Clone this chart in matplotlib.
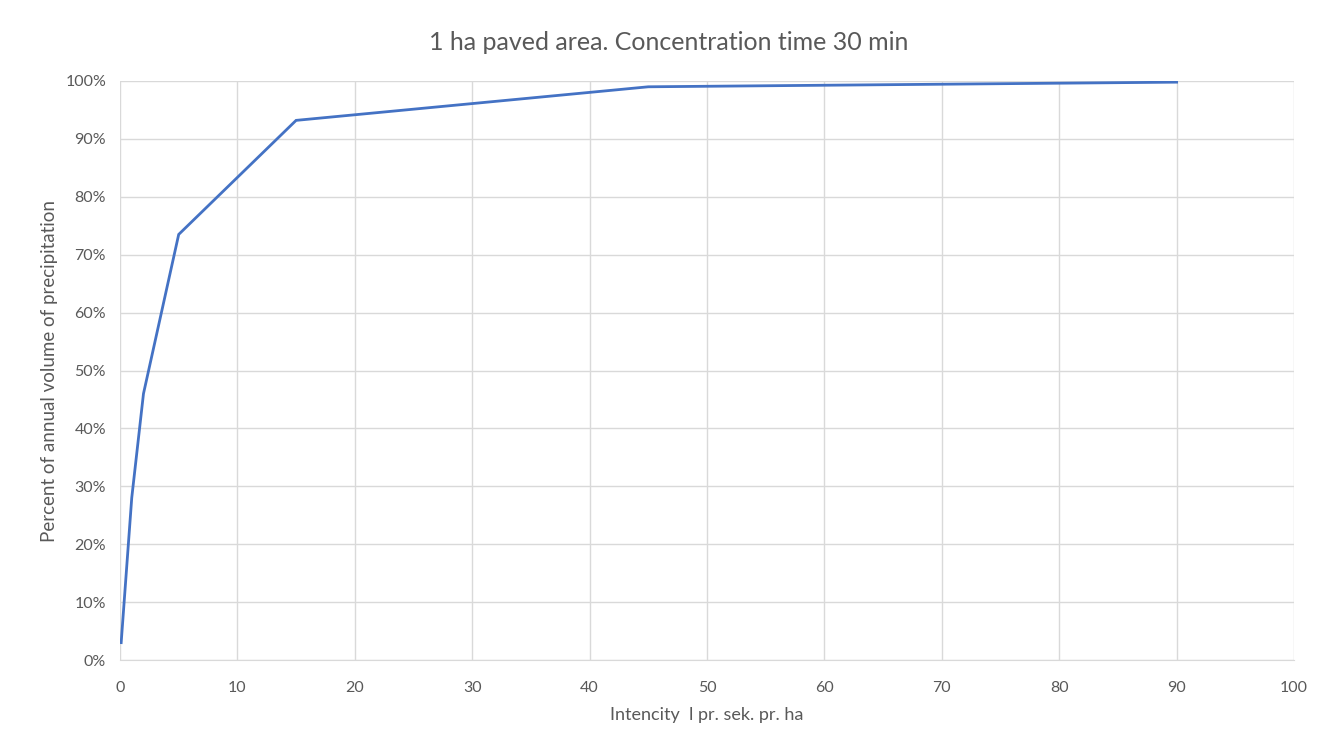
import matplotlib.pyplot as plt
from matplotlib.ticker import FuncFormatter, MultipleLocator

# intensity (l/s/ha) vs cumulative share of annual precipitation volume
intensity = [0.1, 1, 2, 5, 15, 45, 90]
percent = [3.0, 28.0, 46.0, 73.5, 93.2, 99.0, 99.8]

title = "1 ha paved area. Concentration time 30 min"
xlabel = "Intencity  l pr. sek. pr. ha"
ylabel = "Percent of annual volume of precipitation"

plt.rcParams['font.family'] = ['Lato', 'DejaVu Sans']
txt = "#595959"
grid = "#D9D9D9"

fig = plt.figure(figsize=(13.25, 7.4), dpi=100)
ax = fig.add_axes([120/1325, 1 - 660/740, (1294-120)/1325, (660-81)/740])

ax.plot(intensity, percent, color="#4472C4", lw=2.0, solid_joinstyle="miter")

ax.set_xlim(0, 100)
ax.set_ylim(0, 100)
ax.xaxis.set_major_locator(MultipleLocator(10))
ax.yaxis.set_major_locator(MultipleLocator(10))
ax.yaxis.set_major_formatter(FuncFormatter(lambda v, p: f"{v:.0f}%"))
ax.grid(True, color=grid, lw=1.0)
ax.set_axisbelow(True)
for s in ["top", "right", "left"]:
    ax.spines[s].set_visible(False)
ax.spines["bottom"].set_color(grid)
ax.tick_params(length=0, colors=txt, labelsize=11.5)
ax.tick_params(axis="x", pad=15)
ax.tick_params(axis="y", pad=10)

fig.text(669/1325, 1 - 42/740, title, fontsize=18, color=txt, ha="center", va="center")
ax.set_xlabel(xlabel, fontsize=13, color=txt, labelpad=9)
ax.set_ylabel(ylabel, fontsize=13.5, color=txt, labelpad=5)

fig.savefig("out.png", dpi=100, facecolor="white")
